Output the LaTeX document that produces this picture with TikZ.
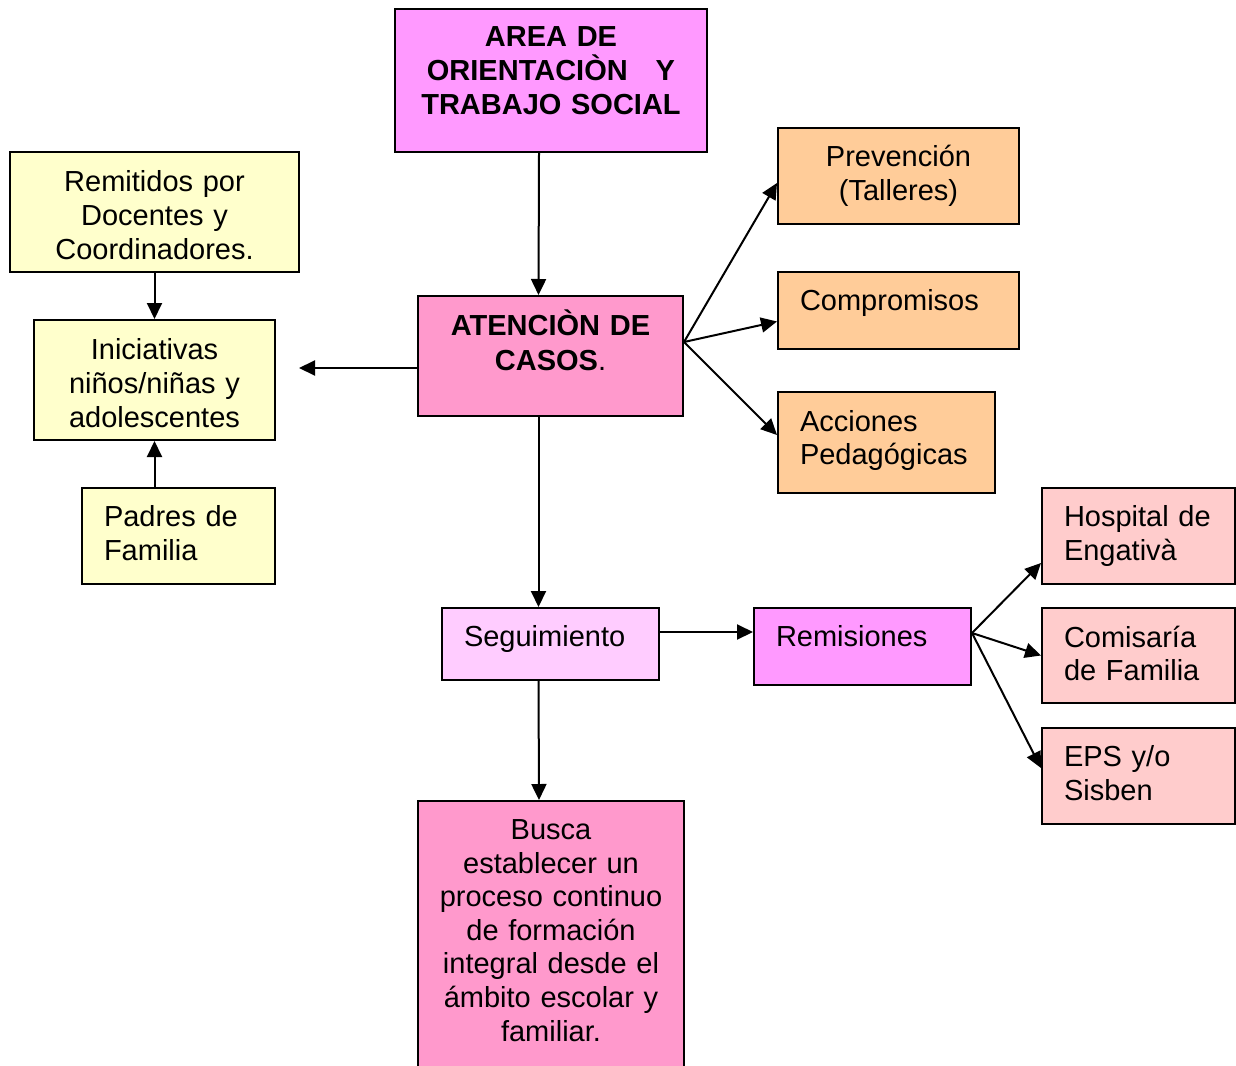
\documentclass[tikz,border=0pt]{standalone}
\usepackage{fontspec}
\setmainfont{Liberation Sans}
\usetikzlibrary{arrows.meta}
\definecolor{lila}{HTML}{FF99FF}
\definecolor{rosa}{HTML}{FF99CC}
\definecolor{crema}{HTML}{FFFFCC}
\definecolor{durazno}{HTML}{FFCC99}
\definecolor{lilaclaro}{HTML}{FFCCFF}
\definecolor{rosaclaro}{HTML}{FFCCCC}
\begin{document}
\begin{tikzpicture}[x=0.5pt,y=-0.5pt,
	box/.style={draw,line width=1pt,rectangle,inner ysep=0pt,font=\fontsize{14.5}{16.8}\selectfont},
	mid/.style={box,align=center,inner xsep=2pt},
	lft/.style={box,align=left,inner xsep=11pt},
	bold/.style={font=\fontsize{14.5}{16.8}\selectfont\bfseries},
	arr/.style={line width=1pt,-{Triangle[length=8pt,width=7.5pt]}}]
	\useasboundingbox (0,0) rectangle (1236,1065);
	\node[mid,bold,fill=lila,minimum width=156pt,minimum height=71.5pt,text width=152pt,text depth=43.6pt] (area) at (551,80.5) {AREA DE\\ORIENTACIÒN\hspace{14pt}Y\\TRABAJO SOCIAL};
	\node[mid,fill=crema,minimum width=144.5pt,minimum height=60pt,text width=140.5pt,text depth=30.6pt] (remit) at (154.5,212) {Remitidos por\\Docentes y\\Coordinadores.};
	\node[mid,fill=crema,minimum width=120.5pt,minimum height=60pt,text width=116.5pt,text depth=30.6pt] (inic) at (154.5,380) {Iniciativas\\niños/niñas y\\adolescentes};
	\node[lft,fill=crema,minimum width=96.5pt,minimum height=48pt,text width=74.5pt,text depth=19.8pt] (padres) at (178.5,536) {Padres de\\Familia};
	\node[mid,bold,fill=rosa,minimum width=132.5pt,minimum height=60pt,text width=128.5pt,text depth=33.8pt] (atencion) at (550.5,356) {ATENCIÒN DE\\[1pt]CASOS\textmd{.}};
	\node[mid,fill=durazno,minimum width=120.5pt,minimum height=48pt,text width=116.5pt,text depth=19.8pt] (prev) at (898.5,176) {Prevención\\(Talleres)};
	\node[lft,fill=durazno,minimum width=120.5pt,minimum height=38.5pt,text width=98.5pt,text depth=10.5pt] (compr) at (898.5,310.5) {Compromisos};
	\node[lft,fill=durazno,minimum width=108.5pt,minimum height=50.5pt,text width=86.5pt,text depth=21.8pt] (acc) at (886.5,442.5) {Acciones\\Pedagógicas};
	\node[lft,fill=lilaclaro,minimum width=108.5pt,minimum height=36pt,text width=86.5pt,text depth=8pt] (segui) at (550.5,644) {Seguimiento};
	\node[lft,fill=lila,minimum width=108.5pt,minimum height=38.5pt,text width=86.5pt,text depth=10.5pt] (remis) at (862.5,646.5) {Remisiones};
	\node[lft,fill=rosaclaro,minimum width=96.5pt,minimum height=48pt,text width=74.5pt,text depth=19.8pt] (hosp) at (1138.5,536) {Hospital de\\Engativà};
	\node[lft,fill=rosaclaro,minimum width=96.5pt,minimum height=47.5pt,text width=74.5pt,text depth=18.8pt] (comis) at (1138.5,655.5) {Comisaría\\de Familia};
	\node[lft,fill=rosaclaro,minimum width=96.5pt,minimum height=48pt,text width=74.5pt,text depth=19.8pt] (eps) at (1138.5,776) {EPS y/o\\Sisben};
	\node[mid,fill=rosa,anchor=north,minimum width=133pt,text width=129pt,inner ysep=9.3pt,text depth=110.8pt] (busca) at (551,800) {Busca\\establecer un\\proceso continuo\\de formación\\integral desde el\\ámbito escolar y\\familiar.};
	\coordinate (toinic) at (299,368);
	\coordinate (fork1) at ([yshift=7pt]atencion.east);
	\coordinate (fork2) at ([yshift=6.75pt]remis.east);
	\draw[arr] ([xshift=-6pt]area.south) -- ([xshift=-6pt]atencion.north);
	\draw[arr] (atencion.west |- toinic) -- (toinic);
	\draw[arr] (remit.south) -- (inic.north);
	\draw[arr] (padres.north -| inic.south) -- (inic.south);
	\draw[arr] (fork1) -- ([yshift=-3.5pt]prev.west);
	\draw[arr] (fork1) -- ([yshift=-5.5pt]compr.west);
	\draw[arr] (fork1) -- ([yshift=3.75pt]acc.west);
	\draw[arr] ([xshift=-6pt]atencion.south) -- ([xshift=-6pt]segui.north);
	\draw[arr] ([yshift=6pt]segui.east) -- ([yshift=6pt]segui.east -| remis.west);
	\draw[arr] ([xshift=-6pt]segui.south) -- ([xshift=-6pt]busca.north);
	\draw[arr] (fork2) -- ([yshift=-13.5pt]hosp.west);
	\draw[arr] (fork2) -- (comis.west);
	\draw[arr] (fork2) -- ([yshift=4pt]eps.west);
\end{tikzpicture}
\end{document}
